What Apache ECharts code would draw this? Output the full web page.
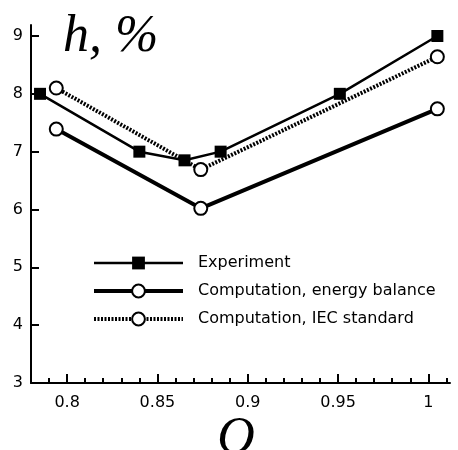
<!DOCTYPE html>
<html>
<head>
<meta charset="utf-8">
<script src="https://cdn.jsdelivr.net/npm/echarts@6/dist/echarts.min.js"></script>
<style>
  html, body { margin: 0; padding: 0; background: #fff; }
  #chart { width: 458px; height: 450px; }
</style>
</head>
<body>
<div id="chart"></div>
<script>
// data
const expQ = [0.785, 0.84, 0.865, 0.885, 0.951, 1.005];
const expH = [8.0, 7.0, 6.85, 7.0, 8.0, 9.0];
const balQ = [0.794, 0.874, 1.005];
const balH = [7.39, 6.02, 7.74];
const iecQ = [0.794, 0.874, 1.005];
const iecH = [8.10, 6.69, 8.64];
const xMajor = [0.8, 0.85, 0.9, 0.95, 1];
const xMinor = [0.79, 0.81, 0.82, 0.83, 0.84, 0.86, 0.87, 0.88, 0.89, 0.91, 0.92, 0.93, 0.94, 0.96, 0.97, 0.98, 0.99, 1.01];
const yTicks = [3, 4, 5, 6, 7, 8, 9];

const pairs = (xs, ys) => xs.map((x, i) => [x, ys[i]]);

const labelFont = { fontFamily: 'DejaVu Sans', fontSize: 16, color: '#000' };
const openCircle = { color: '#fff', borderColor: '#000', borderWidth: 2 };
const bigItalic = { fontFamily: 'Liberation Serif', fontStyle: 'italic', fontWeight: 'normal', fontSize: 52, color: '#000' };
const dotted = [2, 1.5];

let myChart = echarts.init(document.getElementById('chart'));
myChart.setOption({
  animation: false,
  grid: { left: 31, right: 8, top: 25, bottom: 67 },
  title: [{
    text: 'h, %', left: 58, top: 6, textStyle: bigItalic
  }, {
    text: 'Q', left: 212, top: 408, textStyle: bigItalic
  }],
  legend: {
    orient: 'vertical',
    left: 87, top: 250,
    itemWidth: 89, itemHeight: 16, itemGap: 12,
    textStyle: Object.assign({ padding: [0, 0, 0, 10] }, labelFont),
    data: [
      { name: 'Experiment', lineStyle: { width: 2.5 } },
      { name: 'Computation, energy balance', lineStyle: { width: 4 } },
      { name: 'Computation, IEC standard', lineStyle: { width: 4, type: dotted } }
    ]
  },
  xAxis: [{
    type: 'value', min: 0.78, max: 1.012,
    axisLine: { lineStyle: { color: '#000', width: 2 } },
    axisTick: { inside: true, length: 9, lineStyle: { color: '#000', width: 2 }, customValues: xMajor },
    axisLabel: Object.assign({ margin: 12, customValues: xMajor }, labelFont),
    splitLine: { show: false }
  }, {
    type: 'value', min: 0.78, max: 1.012, position: 'bottom',
    axisLine: { show: false },
    axisTick: { inside: true, length: 5, lineStyle: { color: '#000', width: 2 }, customValues: xMinor },
    axisLabel: { show: false },
    splitLine: { show: false }
  }],
  yAxis: {
    type: 'value', min: 3, max: 9.19,
    axisLine: { show: true, lineStyle: { color: '#000', width: 2 } },
    axisTick: { show: true, inside: true, length: 8, lineStyle: { color: '#000', width: 2 }, customValues: yTicks },
    axisLabel: Object.assign({ margin: 8, customValues: yTicks }, labelFont),
    splitLine: { show: false }
  },
  series: [{
    name: 'Computation, IEC standard', type: 'line', z: 2,
    data: pairs(iecQ, iecH),
    symbol: 'circle', symbolSize: 13,
    itemStyle: openCircle,
    lineStyle: { color: '#000', width: 4, type: dotted }
  }, {
    name: 'Computation, energy balance', type: 'line', z: 3,
    data: pairs(balQ, balH),
    symbol: 'circle', symbolSize: 13,
    itemStyle: openCircle,
    lineStyle: { color: '#000', width: 4 }
  }, {
    name: 'Experiment', type: 'line', z: 4,
    data: pairs(expQ, expH),
    symbol: 'rect', symbolSize: 12,
    itemStyle: { color: '#000' },
    lineStyle: { color: '#000', width: 2.5 }
  }]
});
</script>
</body>
</html>
